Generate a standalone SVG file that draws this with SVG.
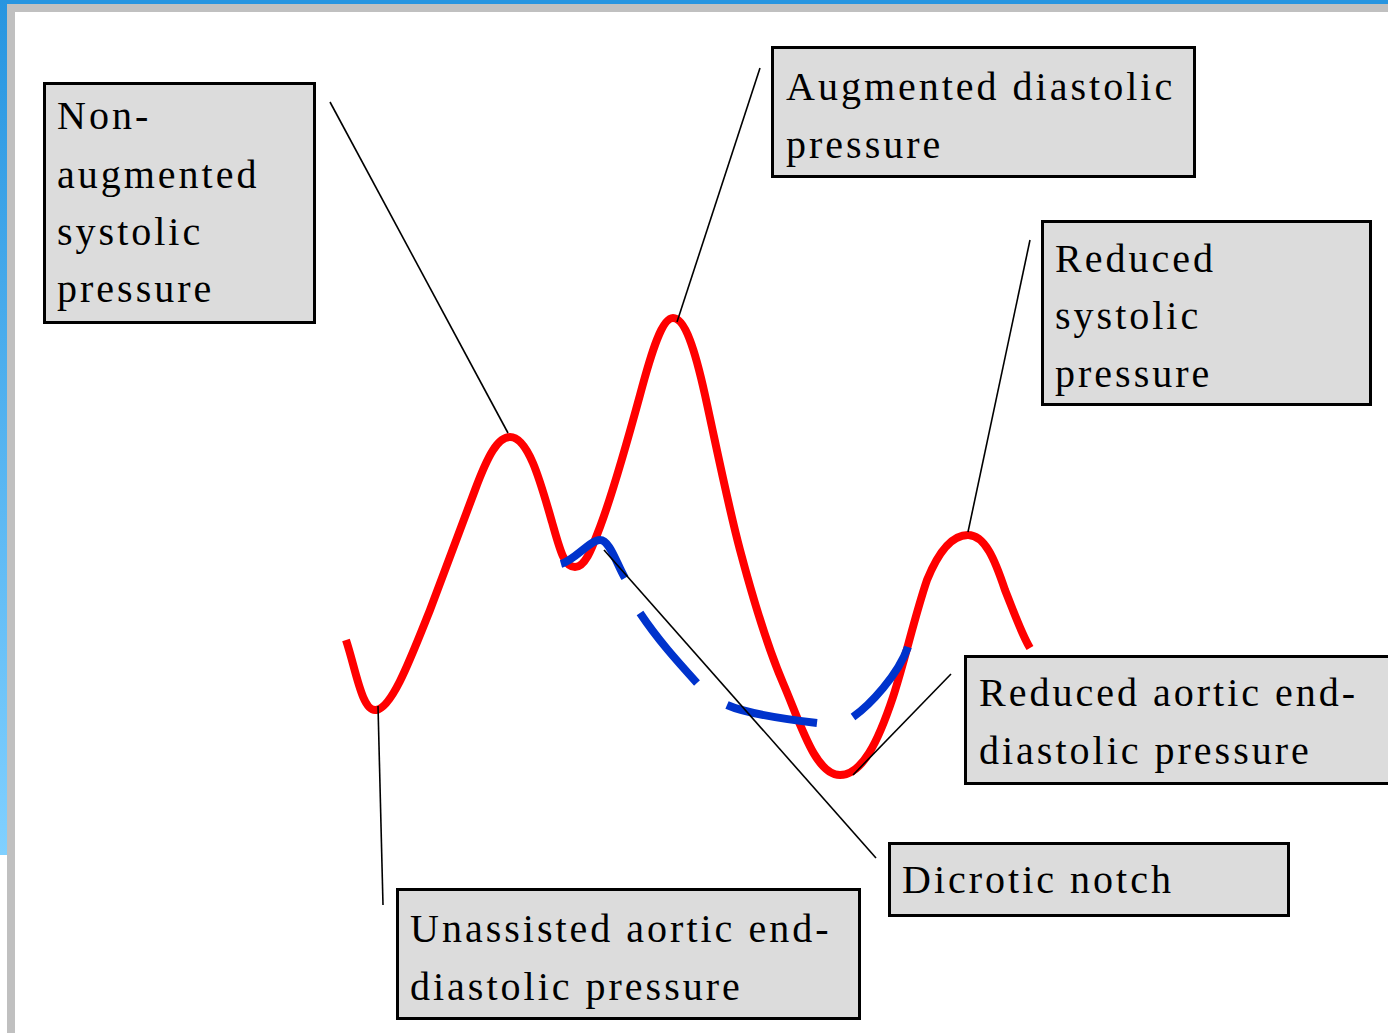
<svg xmlns="http://www.w3.org/2000/svg" width="1388" height="1033" viewBox="0 0 1388 1033">
<defs>
<linearGradient id="lb" x1="0" y1="0" x2="0" y2="1">
<stop offset="0" stop-color="#2795e0"/>
<stop offset="1" stop-color="#80d0ff"/>
</linearGradient>
<style>
.box{fill:#dcdcdc;stroke:#000;stroke-width:3}
.t{font-family:'Liberation Serif','DejaVu Serif',serif;font-size:40px;letter-spacing:3px;fill:#000}
.ln{stroke:#000;stroke-width:1.6;fill:none}
.red{stroke:#ff0000;stroke-width:8;fill:none;stroke-linecap:butt;stroke-linejoin:round}
.blue{stroke:#0033cc;stroke-width:8;fill:none;stroke-linecap:butt;stroke-linejoin:round}
</style>
</defs>
<rect width="1388" height="1033" fill="#ffffff"/>
<rect x="0" y="0" width="1388" height="4" fill="#2795e0"/>
<rect x="0" y="0" width="7" height="855" fill="url(#lb)"/>
<rect x="7" y="4" width="1381" height="8" fill="#c0c0c0"/>
<rect x="7" y="4" width="8" height="1029" fill="#c0c0c0"/>

<g id="curves">
<path class="red" d="M346,640 C356,670 362,712 376,710 C392,708 410,660 430,610 C445,570 462,525 475,490 C488,455 498,437 510,437 C528,437 540,480 552,522 C560,550 564,567 575,567 C586,567 593,545 600,527 C612,495 625,450 640,395 C652,350 662,318 673,318 C685,318 695,350 705,395 C716,445 728,505 740,550 C752,595 768,648 783,683 C800,722 815,775 840,775 C862,775 878,742 893,697 C905,660 915,615 927,580 C938,553 952,535 968,535 C985,535 995,560 1005,590 C1015,615 1022,635 1030,648"/>
<path class="blue" d="M561,564 C575,560 590,540 600,540 C610,540 617,565 625,578"/>
<path class="blue" d="M640,613 C658,640 678,662 697,683"/>
<path class="blue" d="M727,705 C745,713 775,718 817,723"/>
<path class="blue" d="M853,717 C870,705 898,675 908,647"/>
</g>

<g id="connectors">
<line class="ln" x1="330" y1="102" x2="508" y2="433"/>
<line class="ln" x1="760" y1="68" x2="677" y2="322"/>
<line class="ln" x1="1030" y1="240" x2="968" y2="532"/>
<line class="ln" x1="951" y1="674" x2="853" y2="775"/>
<line class="ln" x1="604" y1="550" x2="876" y2="858"/>
<line class="ln" x1="378" y1="706" x2="383" y2="905"/>
</g>

<g id="n1">
<rect class="box" x="44.5" y="83.5" width="270" height="239"/>
<text class="t" x="57" y="129">Non-</text>
<text class="t" x="57" y="188">augmented</text>
<text class="t" x="57" y="245">systolic</text>
<text class="t" x="57" y="302">pressure</text>
</g>
<g id="n2">
<rect class="box" x="772.5" y="47.5" width="422" height="129"/>
<text class="t" x="786" y="100">Augmented diastolic</text>
<text class="t" x="786" y="158">pressure</text>
</g>
<g id="n3">
<rect class="box" x="1042.5" y="221.5" width="328" height="183"/>
<text class="t" x="1055" y="272">Reduced</text>
<text class="t" x="1055" y="329">systolic</text>
<text class="t" x="1055" y="387">pressure</text>
</g>
<g id="n4">
<rect class="box" x="965.5" y="656.5" width="430" height="127"/>
<text class="t" x="979" y="706">Reduced aortic end-</text>
<text class="t" x="979" y="764">diastolic pressure</text>
</g>
<g id="n5">
<rect class="box" x="889.5" y="843.5" width="399" height="72"/>
<text class="t" x="902" y="893">Dicrotic notch</text>
</g>
<g id="n6">
<rect class="box" x="397.5" y="889.5" width="462" height="129"/>
<text class="t" x="410" y="942">Unassisted aortic end-</text>
<text class="t" x="410" y="1000">diastolic pressure</text>
</g>
</svg>
